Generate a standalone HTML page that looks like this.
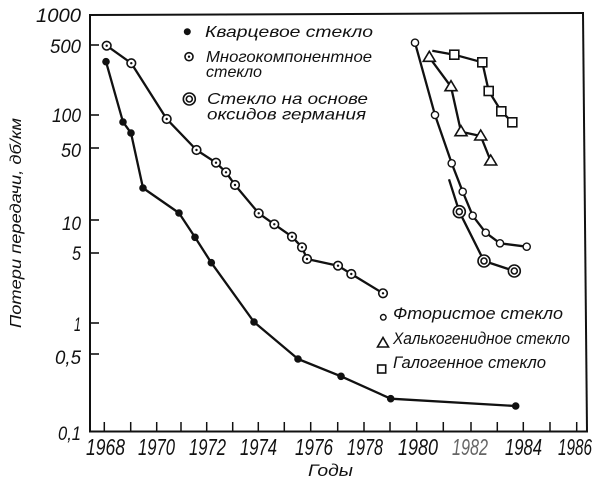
<!DOCTYPE html>
<html>
<head>
<meta charset="utf-8">
<style>
html,body{margin:0;padding:0;background:#fff;}
svg{display:block;}
text{font-family:"Liberation Sans","DejaVu Sans",sans-serif;font-style:italic;fill:#111;}
</style>
</head>
<body>
<svg width="603" height="489" viewBox="0 0 603 489" xmlns="http://www.w3.org/2000/svg">
<rect width="603" height="489" fill="#fff"/>
<!-- frame -->
<g stroke="#111" stroke-width="2" fill="none" stroke-linecap="square">
  <line x1="90" y1="15" x2="90" y2="431.5"/>
  <line x1="90" y1="431.5" x2="587" y2="431.5"/>
  <line x1="90" y1="15" x2="583" y2="13"/>
  <line x1="583" y1="13" x2="587" y2="431.5"/>
</g>
<!-- y ticks -->
<g stroke="#111" stroke-width="1.6">
  <line x1="90" y1="45" x2="99" y2="45"/>
  <line x1="90" y1="115" x2="99" y2="115"/>
  <line x1="90" y1="148" x2="99" y2="148"/>
  <line x1="90" y1="220" x2="99" y2="220"/>
  <line x1="90" y1="253" x2="99" y2="253"/>
  <line x1="90" y1="323" x2="99" y2="323"/>
  <line x1="90" y1="354" x2="99" y2="354"/>
</g>
<!-- x ticks -->
<g stroke="#111" stroke-width="1.5">
  <line x1="104.3" y1="422" x2="104.3" y2="431"/>
  <line x1="130.7" y1="422" x2="130.7" y2="431"/>
  <line x1="156.7" y1="422" x2="156.7" y2="431"/>
  <line x1="181" y1="422" x2="181" y2="431"/>
  <line x1="206.7" y1="422" x2="206.7" y2="431"/>
  <line x1="232.7" y1="422" x2="232.7" y2="431"/>
  <line x1="258.3" y1="422" x2="258.3" y2="431"/>
  <line x1="284.3" y1="422" x2="284.3" y2="431"/>
  <line x1="310.7" y1="422" x2="310.7" y2="431"/>
  <line x1="337.7" y1="422" x2="337.7" y2="431"/>
  <line x1="364" y1="422" x2="364" y2="431"/>
  <line x1="390" y1="422" x2="390" y2="431"/>
  <line x1="416.7" y1="422" x2="416.7" y2="431"/>
  <line x1="443.3" y1="422" x2="443.3" y2="431"/>
  <line x1="471" y1="422" x2="471" y2="431"/>
  <line x1="497.3" y1="422" x2="497.3" y2="431"/>
  <line x1="523.3" y1="422" x2="523.3" y2="431"/>
  <line x1="550" y1="422" x2="550" y2="431"/>
  <line x1="576.7" y1="422" x2="576.7" y2="431"/>
</g>
<!-- y labels -->
<g font-size="19">
  <text x="36" y="22" textLength="45" lengthAdjust="spacingAndGlyphs">1000</text>
  <text x="50" y="53" textLength="31" lengthAdjust="spacingAndGlyphs">500</text>
  <text x="52" y="122" textLength="29" lengthAdjust="spacingAndGlyphs">100</text>
  <text x="61" y="157" textLength="20" lengthAdjust="spacingAndGlyphs">50</text>
  <text x="62" y="230" textLength="19" lengthAdjust="spacingAndGlyphs">10</text>
  <text x="72" y="260" textLength="9" lengthAdjust="spacingAndGlyphs">5</text>
  <text x="74" y="331" textLength="7" lengthAdjust="spacingAndGlyphs">1</text>
  <text x="55" y="364" textLength="26" lengthAdjust="spacingAndGlyphs">0,5</text>
  <text x="58" y="440" textLength="23" lengthAdjust="spacingAndGlyphs">0,1</text>
</g>
<!-- x labels -->
<g font-size="23">
  <text x="86" y="455" textLength="39" lengthAdjust="spacingAndGlyphs">1968</text>
  <text x="138" y="455" textLength="37" lengthAdjust="spacingAndGlyphs">1970</text>
  <text x="189" y="455" textLength="37" lengthAdjust="spacingAndGlyphs">1972</text>
  <text x="240" y="455" textLength="37" lengthAdjust="spacingAndGlyphs">1974</text>
  <text x="295" y="455" textLength="38" lengthAdjust="spacingAndGlyphs">1976</text>
  <text x="347" y="455" textLength="36" lengthAdjust="spacingAndGlyphs">1978</text>
  <text x="398" y="455" textLength="40" lengthAdjust="spacingAndGlyphs">1980</text>
  <text x="452" y="455" textLength="36" lengthAdjust="spacingAndGlyphs" style="fill:#666">1982</text>
  <text x="505" y="455" textLength="37" lengthAdjust="spacingAndGlyphs">1984</text>
  <text x="558" y="455" textLength="34" lengthAdjust="spacingAndGlyphs">1986</text>
</g>
<text x="308" y="476" font-size="17" textLength="45" lengthAdjust="spacingAndGlyphs">Годы</text>
<text transform="translate(21,328) rotate(-90)" font-size="16" textLength="210" lengthAdjust="spacingAndGlyphs">Потери передачи, дб/км</text>

<!-- series lines -->
<g stroke="#111" stroke-width="2.3" fill="none" stroke-linejoin="round">
  <polyline points="106,61.7 123,122 131,133 143,188 179,213 195,237.3 211.3,262.7 254,322 298,359 341,376.3 390.7,398.7 515.7,406"/>
  <polyline points="106.7,45.7 131.3,63.2 166.7,119 196.5,150 216,162.7 226,172.3 235,185 258.7,213.3 274.3,224.3 292,236.7 302,247.3 307,259 338,265.7 351.3,274 383,293.3"/>
  <polyline points="415,42.7 435,115 451.7,163.3 462.7,191.7 472.7,215.7 485.7,232.7 500,243.3 526.7,246.7"/>
  <polyline points="449,179.3 459.3,211.7 484,261 514.3,271"/>
  <polyline points="429.3,57.3 451,86.7 461,131.7 480.7,136 490.7,161"/>
  <polyline points="432.3,50.7 454.3,54.7 482.3,62.3 488.7,91 501.3,111.3 512.3,122.3"/>
</g>

<!-- quartz markers -->
<g fill="#111">
  <circle cx="106" cy="61.7" r="3.8"/>
  <circle cx="123" cy="122" r="3.8"/>
  <circle cx="131" cy="133" r="3.8"/>
  <circle cx="143" cy="188" r="3.8"/>
  <circle cx="179" cy="213" r="3.8"/>
  <circle cx="195" cy="237.3" r="3.8"/>
  <circle cx="211.3" cy="262.7" r="3.8"/>
  <circle cx="254" cy="322" r="3.8"/>
  <circle cx="298" cy="359" r="3.8"/>
  <circle cx="341" cy="376.3" r="3.8"/>
  <circle cx="390.7" cy="398.7" r="3.8"/>
  <circle cx="515.7" cy="406" r="3.8"/>
  <circle cx="187.3" cy="31.7" r="3.5"/>
</g>
<!-- multicomponent markers -->
<g fill="#fff" stroke="#111" stroke-width="1.6">
  <circle cx="106.7" cy="45.7" r="4.3"/>
  <circle cx="131.3" cy="63.2" r="4.3"/>
  <circle cx="166.7" cy="119" r="4.3"/>
  <circle cx="196.5" cy="150" r="4.3"/>
  <circle cx="216" cy="162.7" r="4.3"/>
  <circle cx="226" cy="172.3" r="4.3"/>
  <circle cx="235" cy="185" r="4.3"/>
  <circle cx="258.7" cy="213.3" r="4.3"/>
  <circle cx="274.3" cy="224.3" r="4.3"/>
  <circle cx="292" cy="236.7" r="4.3"/>
  <circle cx="302" cy="247.3" r="4.3"/>
  <circle cx="307" cy="259" r="4.3"/>
  <circle cx="338" cy="265.7" r="4.3"/>
  <circle cx="351.3" cy="274" r="4.3"/>
  <circle cx="383" cy="293.3" r="4.3"/>
  <circle cx="189" cy="56.7" r="4"/>
</g>
<g fill="#111">
  <circle cx="106.7" cy="45.7" r="1.2"/>
  <circle cx="131.3" cy="63.2" r="1.2"/>
  <circle cx="166.7" cy="119" r="1.2"/>
  <circle cx="196.5" cy="150" r="1.2"/>
  <circle cx="216" cy="162.7" r="1.2"/>
  <circle cx="226" cy="172.3" r="1.2"/>
  <circle cx="235" cy="185" r="1.2"/>
  <circle cx="258.7" cy="213.3" r="1.2"/>
  <circle cx="274.3" cy="224.3" r="1.2"/>
  <circle cx="292" cy="236.7" r="1.2"/>
  <circle cx="302" cy="247.3" r="1.2"/>
  <circle cx="307" cy="259" r="1.2"/>
  <circle cx="338" cy="265.7" r="1.2"/>
  <circle cx="351.3" cy="274" r="1.2"/>
  <circle cx="383" cy="293.3" r="1.2"/>
  <circle cx="189" cy="56.7" r="1.2"/>
</g>
<!-- fluoride markers -->
<g fill="#fff" stroke="#111" stroke-width="1.4">
  <circle cx="415" cy="42.7" r="3.6"/>
  <circle cx="435" cy="115" r="3.6"/>
  <circle cx="451.7" cy="163.3" r="3.6"/>
  <circle cx="462.7" cy="191.7" r="3.6"/>
  <circle cx="472.7" cy="215.7" r="3.6"/>
  <circle cx="485.7" cy="232.7" r="3.6"/>
  <circle cx="500" cy="243.3" r="3.6"/>
  <circle cx="526.7" cy="246.7" r="3.6"/>
  <circle cx="383.3" cy="317.3" r="2.8"/>
</g>
<!-- germanium markers -->
<g fill="#fff" stroke="#111" stroke-width="1.6">
  <circle cx="459.3" cy="211.7" r="6"/>
  <circle cx="484" cy="261" r="6"/>
  <circle cx="514.3" cy="271" r="6"/>
  <circle cx="189.3" cy="99" r="6"/>
  <circle cx="459.3" cy="211.7" r="3"/>
  <circle cx="484" cy="261" r="3"/>
  <circle cx="514.3" cy="271" r="3"/>
  <circle cx="189.3" cy="99" r="3"/>
</g>
<!-- chalcogenide markers -->
<g fill="#fff" stroke="#111" stroke-width="1.6" stroke-linejoin="miter">
  <polygon points="429.3,51.3 423.3,61.3 435.3,61.3"/>
  <polygon points="451,80.7 445,90.7 457,90.7"/>
  <polygon points="461,125.7 455,135.7 467,135.7"/>
  <polygon points="480.7,130 474.7,140 486.7,140"/>
  <polygon points="490.7,155 484.7,165 496.7,165"/>
  <polygon points="383,337.5 377.5,347 388.5,347"/>
</g>
<!-- halide markers -->
<g fill="#fff" stroke="#111" stroke-width="1.6">
  <rect x="449.8" y="50.2" width="9" height="9"/>
  <rect x="477.8" y="57.8" width="9" height="9"/>
  <rect x="484.2" y="86.5" width="9" height="9"/>
  <rect x="496.8" y="106.8" width="9" height="9"/>
  <rect x="507.8" y="117.8" width="9" height="9"/>
  <rect x="377.7" y="365" width="8" height="8"/>
</g>

<!-- top legend text -->
<g font-size="16">
  <text x="205" y="37" textLength="168" lengthAdjust="spacingAndGlyphs">Кварцевое стекло</text>
  <text x="206" y="62" textLength="166" lengthAdjust="spacingAndGlyphs">Многокомпонентное</text>
  <text x="206" y="77" textLength="56" lengthAdjust="spacingAndGlyphs">стекло</text>
  <text x="207" y="104" textLength="161" lengthAdjust="spacingAndGlyphs">Стекло на основе</text>
  <text x="207" y="119.5" textLength="159" lengthAdjust="spacingAndGlyphs">оксидов германия</text>
</g>
<!-- bottom legend text -->
<g font-size="17">
  <text x="393" y="319" textLength="170" lengthAdjust="spacingAndGlyphs">Фтористое стекло</text>
  <text x="393" y="344" textLength="177" lengthAdjust="spacingAndGlyphs">Халькогенидное стекло</text>
  <text x="393" y="368" textLength="153" lengthAdjust="spacingAndGlyphs">Галогенное стекло</text>
</g>
</svg>
</body>
</html>
